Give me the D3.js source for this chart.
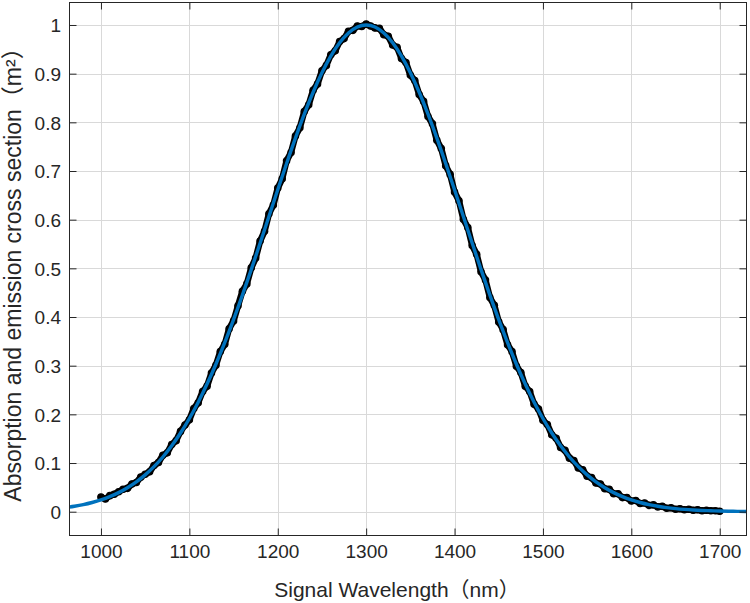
<!DOCTYPE html>
<html>
<head>
<meta charset="utf-8">
<script src="https://cdn.jsdelivr.net/npm/d3@7"></script>
<style>
  html, body { margin: 0; padding: 0; background: #fff; }
  svg { display: block; }
  text { font-family: "Liberation Sans", Arial, "Noto Sans CJK SC", sans-serif; fill: #262626; }
</style>
</head>
<body>
<svg id="chart" width="750" height="603"></svg>
<script>
// ---- data ----
const xTicks = [1000, 1100, 1200, 1300, 1400, 1500, 1600, 1700];
const yTicks = [0, 0.1, 0.2, 0.3, 0.4, 0.5, 0.6, 0.7, 0.8, 0.9, 1];
const yTickLabels = ["0", "0.1", "0.2", "0.3", "0.4", "0.5", "0.6", "0.7", "0.8", "0.9", "1"];

// measured data (black markers), wavelength 1000..1700 every 5 nm
const measWavelength = [
  1000,1005,1010,1015,1020,1025,1030,1035,1040,1045,1050,1055,1060,1065,1070,1075,1080,1085,1090,1095,
  1100,1105,1110,1115,1120,1125,1130,1135,1140,1145,1150,1155,1160,1165,1170,1175,1180,1185,1190,1195,
  1200,1205,1210,1215,1220,1225,1230,1235,1240,1245,1250,1255,1260,1265,1270,1275,1280,1285,1290,1295,
  1300,1305,1310,1315,1320,1325,1330,1335,1340,1345,1350,1355,1360,1365,1370,1375,1380,1385,1390,1395,
  1400,1405,1410,1415,1420,1425,1430,1435,1440,1445,1450,1455,1460,1465,1470,1475,1480,1485,1490,1495,
  1500,1505,1510,1515,1520,1525,1530,1535,1540,1545,1550,1555,1560,1565,1570,1575,1580,1585,1590,1595,
  1600,1605,1610,1615,1620,1625,1630,1635,1640,1645,1650,1655,1660,1665,1670,1675,1680,1685,1690,1695,
  1700
];
const measValue = [
  0.030,0.026,0.033,0.036,0.041,0.046,0.048,0.057,0.060,0.071,0.077,0.082,0.095,0.101,0.116,0.121,0.138,0.146,0.165,0.178,
  0.189,0.212,0.224,0.247,0.258,0.285,0.301,0.329,0.344,0.376,0.392,0.423,0.453,0.468,0.501,0.521,0.556,0.576,0.612,0.630,
  0.665,0.684,0.721,0.738,0.772,0.789,0.822,0.836,0.866,0.879,0.906,0.917,0.939,0.947,0.966,0.972,0.987,0.989,0.998,0.997,
  1.002,0.998,0.994,0.993,0.980,0.977,0.959,0.954,0.931,0.923,0.897,0.886,0.857,0.843,0.812,0.797,0.763,0.746,0.711,0.693,
  0.657,0.639,0.601,0.584,0.547,0.529,0.493,0.476,0.440,0.424,0.390,0.374,0.343,0.329,0.299,0.286,0.258,0.247,0.221,0.211,
  0.188,0.179,0.158,0.151,0.132,0.126,0.110,0.105,0.090,0.086,0.073,0.070,0.059,0.057,0.047,0.046,0.037,0.037,0.029,0.029,
  0.022,0.023,0.017,0.018,0.013,0.014,0.010,0.011,0.007,0.008,0.005,0.006,0.004,0.005,0.003,0.004,0.002,0.003,0.002,0.002,
  0.001
];

// fitted curve (blue), every 10 nm
const fitWavelength = [
  960,970,980,990,1000,1010,1020,1030,1040,1050,1060,1070,1080,1090,1100,1110,1120,1130,1140,1150,
  1160,1170,1180,1190,1200,1210,1220,1230,1240,1250,1260,1270,1280,1290,1300,1310,1320,1330,1340,1350,
  1360,1370,1380,1390,1400,1410,1420,1430,1440,1450,1460,1470,1480,1490,1500,1510,1520,1530,1540,1550,
  1560,1570,1580,1590,1600,1610,1620,1630,1640,1650,1660,1670,1680,1690,1700,1710,1720,1730,1740
];
const fitValue = [
  0.0084,0.0111,0.0145,0.0189,0.0243,0.0310,0.0392,0.0492,0.0612,0.0756,0.0925,0.1124,0.1353,0.1616,0.1915,0.2250,0.2622,0.3030,0.3472,0.3946,
  0.4449,0.4974,0.5516,0.6065,0.6615,0.7155,0.7676,0.8167,0.8618,0.9018,0.9360,0.9635,0.9836,0.9959,1.0000,0.9959,0.9836,0.9635,0.9360,0.9018,
  0.8618,0.8167,0.7676,0.7155,0.6615,0.6065,0.5516,0.4974,0.4449,0.3946,0.3472,0.3030,0.2622,0.2250,0.1915,0.1616,0.1353,0.1124,0.0925,0.0756,
  0.0612,0.0492,0.0392,0.0310,0.0243,0.0189,0.0145,0.0111,0.0084,0.0063,0.0047,0.0035,0.0026,0.0019,0.0013,0.0010,0.0007,0.0005,0.0003
];

const xLabel = "Signal Wavelength（nm）";
const yLabel = "Absorption and emission cross section（m²）";

// ---- layout ----
const L = 69.5, R = 746.5, T = 2.5, B = 535.5;
const svg = d3.select("#chart");

const x = d3.scaleLinear().domain([964.4, 1730.3]).range([L, R]);
const y = d3.scaleLinear().domain([-0.0489, 1.0462]).range([B, T]);

svg.append("defs").append("clipPath").attr("id", "clip")
  .append("rect").attr("x", L).attr("y", T).attr("width", R - L).attr("height", B - T);

// grid
const grid = svg.append("g");
grid.selectAll("line.gx").data(xTicks).join("line")
  .attr("x1", d => Math.round(x(d)) + 0.5).attr("x2", d => Math.round(x(d)) + 0.5)
  .attr("y1", T).attr("y2", B).attr("stroke", "#d9d9d9").attr("stroke-width", 1);
grid.selectAll("line.gy").data(yTicks).join("line")
  .attr("y1", d => Math.round(y(d)) + 0.5).attr("y2", d => Math.round(y(d)) + 0.5)
  .attr("x1", L).attr("x2", R).attr("stroke", "#d9d9d9").attr("stroke-width", 1);

// data
const plot = svg.append("g").attr("clip-path", "url(#clip)");
const meas = measWavelength.map((w, i) => [w, measValue[i]]);
const fit = fitWavelength.map((w, i) => [w, fitValue[i]]);

plot.append("path").datum(meas)
  .attr("d", d3.line().x(d => x(d[0])).y(d => y(d[1])))
  .attr("fill", "none").attr("stroke", "#000").attr("stroke-width", 6.5)
  .attr("stroke-linejoin", "round").attr("stroke-linecap", "round");
plot.selectAll("circle").data(meas).join("circle")
  .attr("cx", d => x(d[0])).attr("cy", d => y(d[1])).attr("r", 3.8).attr("fill", "#000");

plot.append("path").datum(fit)
  .attr("d", d3.line().curve(d3.curveMonotoneX).x(d => x(d[0])).y(d => y(d[1])))
  .attr("fill", "none").attr("stroke", "#0072BD").attr("stroke-width", 3.4)
  .attr("stroke-linejoin", "round");

// axes (box with inward ticks)
const tickLen = 7;
const axColor = "#262626";
svg.append("rect").attr("x", L).attr("y", T).attr("width", R - L).attr("height", B - T)
  .attr("fill", "none").attr("stroke", axColor).attr("stroke-width", 1);

const xb = d3.axisBottom(x).tickValues(xTicks).tickSize(-tickLen).tickFormat(d3.format("d"));
const gxB = svg.append("g").attr("transform", `translate(0,${B})`).call(xb);
const gxT = svg.append("g").attr("transform", `translate(0,${T})`)
  .call(d3.axisTop(x).tickValues(xTicks).tickSize(-tickLen).tickFormat(""));
const yl = d3.axisLeft(y).tickValues(yTicks).tickSize(-tickLen).tickPadding(9)
  .tickFormat((d, i) => yTickLabels[i]);
const gyL = svg.append("g").attr("transform", `translate(${L},0)`).call(yl);
const gyR = svg.append("g").attr("transform", `translate(${R},0)`)
  .call(d3.axisRight(y).tickValues(yTicks).tickSize(-tickLen).tickFormat(""));

[gxB, gxT, gyL, gyR].forEach(g => {
  g.select(".domain").remove();
  g.selectAll(".tick line").attr("stroke", axColor).attr("stroke-width", 1);
  g.selectAll(".tick text").attr("fill", axColor).style("font-size", "19px")
    .style("font-family", "'Liberation Sans', Arial, sans-serif");
});
gxB.selectAll(".tick text").attr("dy", null).attr("y", 22);
gyL.selectAll(".tick text").attr("x", -8.5).attr("dy", "0.36em");

// labels
svg.append("text").attr("x", 397).attr("y", 597)
  .attr("text-anchor", "middle").style("font-size", "21px").text(xLabel);
svg.append("text").attr("transform", `translate(21,${(T + B) / 2}) rotate(-90)`)
  .attr("text-anchor", "middle").style("font-size", "23px").text(yLabel);
</script>
</body>
</html>
